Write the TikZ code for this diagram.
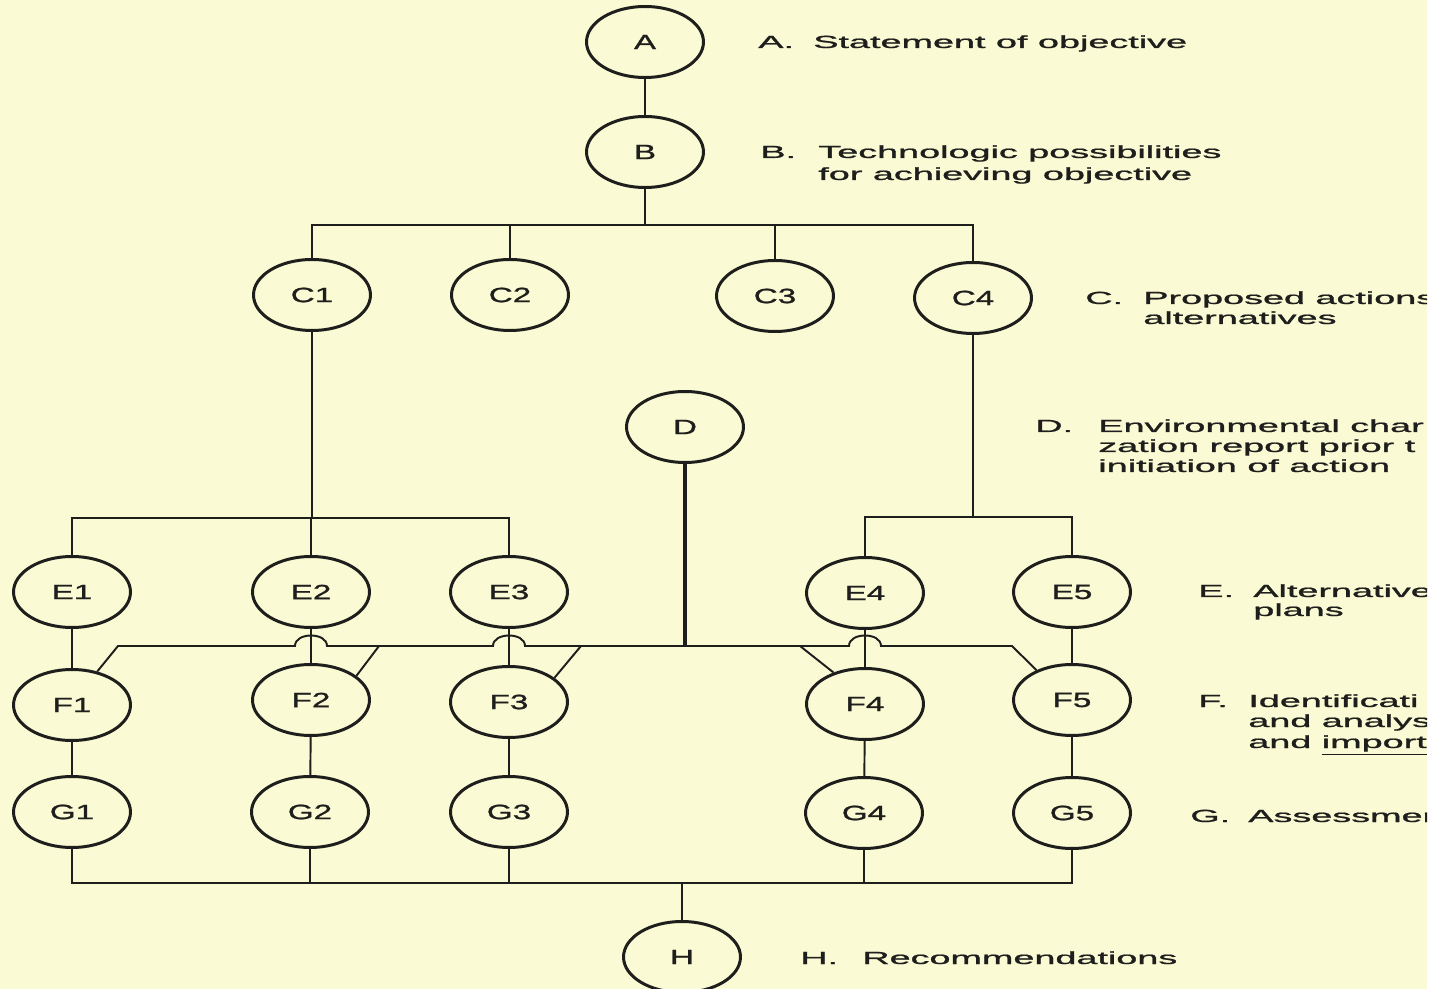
\documentclass[tikz,border=0pt]{standalone}
\usepackage{fontspec}
\setmainfont{Liberation Sans}
\newfontfamily\inkfont[FakeBold=0.9]{Liberation Sans}
\usepackage{graphicx}
\usetikzlibrary{shapes.geometric,calc}
\definecolor{bgc}{RGB}{250,250,212}
\definecolor{ink}{RGB}{30,30,28}
\newcommand\wtxt[1]{\scalebox{2.15}[1]{#1}}
\newcommand\ntxt[1]{\scalebox{1.6}[1]{#1}}
\tikzset{
  stage/.style={ellipse, draw=ink, line width=1.7pt, minimum width=2.34cm, minimum height=1.42cm,
    inner sep=0pt, text=ink, font=\inkfont\fontsize{11.8}{13}\selectfont},
  lbl/.style={anchor=base west, inner sep=0pt, text=ink, font=\inkfont\fontsize{10}{12}\selectfont},
  conn/.style={draw=ink, line width=1.1pt},
  dconn/.style={draw=ink, line width=1.8pt}
}
\begin{document}
\begin{tikzpicture}[x=0.02cm, y=-0.02cm]
\useasboundingbox (0,0) rectangle (1441,989);
\fill[bgc] (0,0) rectangle (1427,989);
\fill[white] (1427,0) rectangle (1441,989);
\begin{scope}
\clip (0,0) rectangle (1427,989);
% nodes
\node[stage] (A) at (645,42) {\ntxt{A}};
\node[stage] (B) at (645,152) {\ntxt{B}};
\node[stage] (C1) at (312,295) {\ntxt{C1}};
\node[stage] (C2) at (510,295) {\ntxt{C2}};
\node[stage] (C3) at (775,296) {\ntxt{C3}};
\node[stage] (C4) at (973,298) {\ntxt{C4}};
\node[stage] (D) at (685,427) {\ntxt{D}};
\node[stage] (E1) at (72,592) {\ntxt{E1}};
\node[stage] (E2) at (311,592) {\ntxt{E2}};
\node[stage] (E3) at (509,592) {\ntxt{E3}};
\node[stage] (E4) at (865,593) {\ntxt{E4}};
\node[stage] (E5) at (1072,592) {\ntxt{E5}};
\node[stage] (F1) at (72,705) {\ntxt{F1}};
\node[stage] (F2) at (311,700) {\ntxt{F2}};
\node[stage] (F3) at (509,702) {\ntxt{F3}};
\node[stage] (F4) at (865,704) {\ntxt{F4}};
\node[stage] (F5) at (1072,700) {\ntxt{F5}};
\node[stage] (G1) at (72,812) {\ntxt{G1}};
\node[stage] (G2) at (310,812) {\ntxt{G2}};
\node[stage] (G3) at (509,812) {\ntxt{G3}};
\node[stage] (G4) at (864,813) {\ntxt{G4}};
\node[stage] (G5) at (1072,813) {\ntxt{G5}};
\node[stage] (H) at (682,957) {\ntxt{H}};
% bus coordinates
\coordinate (cb) at (645,225);
\coordinate (el) at (312,518);
\coordinate (er) at (973,517);
\coordinate (fb) at (685,646);
\coordinate (f1) at (118,646);
\coordinate (f2) at (379,646);
\coordinate (f3) at (581,646);
\coordinate (f4) at (800,646);
\coordinate (f5) at (1012,646);
\coordinate (gb) at (682,883);
% connectors
\draw[conn] (A) -- (B);
\draw[conn] (B) -- (cb);
\draw[conn] (C1.north) |- (cb) -| (C4.north);
\draw[conn] (C2.north) -- (C2.north |- cb);
\draw[conn] (C3.north) -- (C3.north |- cb);
\draw[conn] (C1.south) -- (el);
\draw[conn] (E1.north) |- (el) -| (E3.north);
\draw[conn] (E2.north) -- (E2.north |- el);
\draw[conn] (C4.south) -- (er);
\draw[conn] (E4.north) |- (er) -| (E5.north);
\draw[dconn] (D.south) -- (fb);
\foreach \i in {1,...,5}{
  \draw[conn] (E\i) -- (F\i);
  \draw[conn] (F\i) -- (G\i);
}
\draw[conn] (F1.53) -- (f1) -- ($(E2.south|-f1)+(-16,0)$) .. controls +(0,-14) and +(0,-14) .. ++(32,0) -- (f2) -- (F2.28);
\draw[conn] (f2) -- ($(E3.south|-f1)+(-16,0)$) .. controls +(0,-14) and +(0,-14) .. ++(32,0) -- (f3) -- (F3.28);
\draw[conn] (f3) -- (f4) -- (F4.135);
\draw[conn] (f4) -- ($(E4.south|-f1)+(-16,0)$) .. controls +(0,-14) and +(0,-14) .. ++(32,0) -- (f5) -- (F5.140);
\draw[conn] (G1.south) |- (gb) -| (G5.south);
\draw[conn] (G2.south) -- (G2.south |- gb);
\draw[conn] (G3.south) -- (G3.south |- gb);
\draw[conn] (G4.south) -- (G4.south |- gb);
\draw[conn] (gb) -- (H);
% texts
\node[lbl] (tA) at (758,48) {\wtxt{A.}};
\node[lbl] (tA1) at (813,48) {\wtxt{Statement of objective}};
\node[lbl] (tB) at (760,158) {\wtxt{B.}};
\node[lbl] (tB1) at (818,158) {\wtxt{Technologic possibilities}};
\node[lbl] (tB2) at (818,180) {\wtxt{for achieving objective}};
\node[lbl] (tC) at (1085,304) {\wtxt{C.}};
\node[lbl] (tC1) at (1143,304) {\wtxt{Proposed actions}};
\node[lbl] (tC2) at (1143,324) {\wtxt{alternatives}};
\node[lbl] (tD) at (1035,432) {\wtxt{D.}};
\node[lbl] (tD1) at (1098,432) {\wtxt{Environmental char}};
\node[lbl] (tD2) at (1098,452) {\wtxt{zation report prior t}};
\node[lbl] (tD3) at (1098,472) {\wtxt{initiation of action}};
\node[lbl] (tE) at (1198,597) {\wtxt{E.}};
\node[lbl] (tE1) at (1253,597) {\wtxt{Alternative}};
\node[lbl] (tE2) at (1253,616) {\wtxt{plans}};
\node[lbl] (tF) at (1198,707) {\wtxt{F.}};
\node[lbl] (tF1) at (1248,707) {\wtxt{Identificati}};
\node[lbl] (tF2) at (1248,727) {\wtxt{and analys}};
\node[lbl] (tF3) at (1248,748) {\wtxt{and \underline{import}}};
\node[lbl] (tG) at (1190,822) {\wtxt{G.}};
\node[lbl] (tG1) at (1248,822) {\wtxt{Assessmen}};
\node[lbl] (tH) at (800,964) {\wtxt{H.}};
\node[lbl] (tH1) at (862,964) {\wtxt{Recommendations}};
\end{scope}
\end{tikzpicture}
\end{document}
